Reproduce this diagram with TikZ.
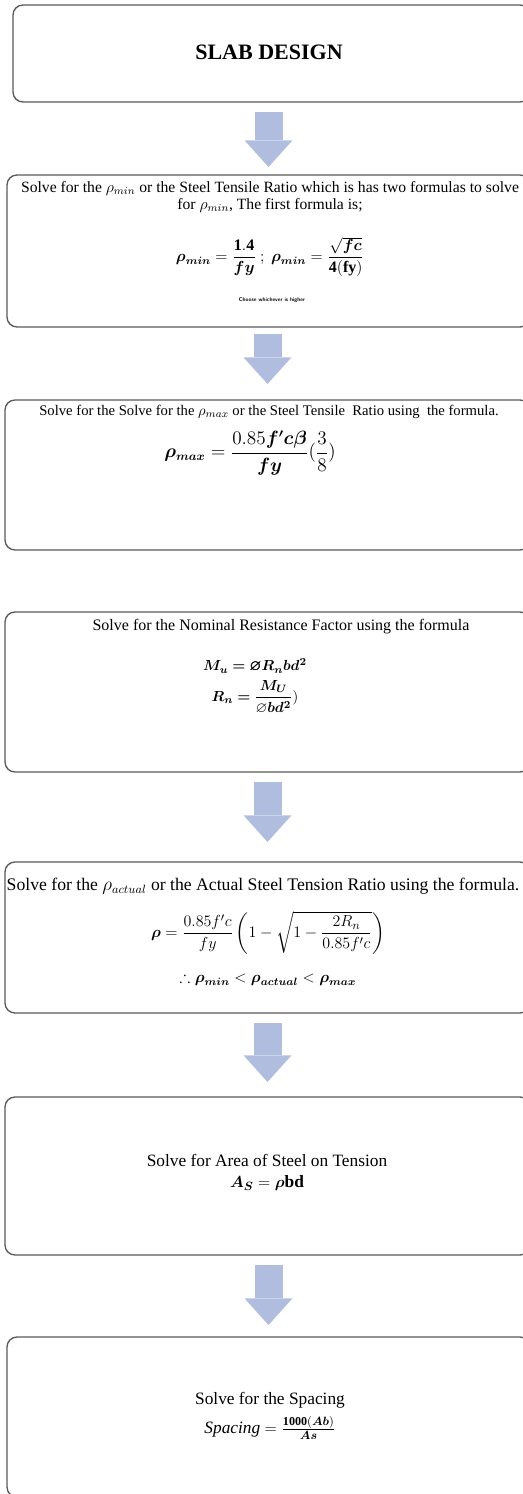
\documentclass[tikz,border=0pt]{standalone}
\usepackage{amsmath,amssymb,bm}
\usepackage{fontspec}
\setmainfont{Liberation Serif}
\usetikzlibrary{arrows.meta}

\tikzset{every picture/.style={line width=0.75pt}}
\tikzset{
  stepbox/.style={draw={rgb, 255:red, 89; green, 89; blue, 89}, line width=1pt, rounded corners=7.5pt, inner sep=0pt, outer sep=0pt},
  steptext/.style={inner sep=0pt, align=center},
  flowarrow/.style={draw={rgb, 255:red, 176; green, 189; blue, 222}, line width=21pt,
    -{Triangle[width=36pt,length=20pt,line width=0pt]}, shorten <=7.5pt},
}

\begin{document}
\begin{tikzpicture}[x=0.75pt,y=0.75pt,yscale=-1,xscale=1]
\useasboundingbox (0,0) rectangle (523,1494);
\clip (0,0) rectangle (523,1494);

%Shape: Rounded Rect [title]
\node[stepbox, minimum width=387.75pt, minimum height=72.75pt] (title) at (271.5,53.5) {};
%Shape: Rounded Rect [rho min]
\node[stepbox, minimum width=392.25pt, minimum height=114pt] (ratiomin) at (268.5,251) {};
%Shape: Rounded Rect [rho max]
\node[stepbox, minimum width=393.75pt, minimum height=112.5pt] (ratiomax) at (267.5,475) {};
%Shape: Rounded Rect [Rn]
\node[stepbox, minimum width=393.75pt, minimum height=120pt] (resist) at (267.5,692) {};
%Shape: Rounded Rect [rho actual]
\node[stepbox, minimum width=393.75pt, minimum height=113.25pt] (actual) at (267.5,937.5) {};
%Shape: Rounded Rect [As]
\node[stepbox, minimum width=393.75pt, minimum height=118.5pt] (area) at (267.5,1176) {};
%Shape: Rounded Rect [spacing]
\node[stepbox, minimum width=392.25pt, minimum height=120pt] (spacing) at (268.5,1417) {};

%Down Arrows
\draw[flowarrow, shorten >=6pt] (ratiomin.north |- title.south) -- (ratiomin.north);
\draw[flowarrow, shorten <=5.25pt, shorten >=12pt] (ratiomax.north |- ratiomin.south) -- (ratiomax.north);
\draw[flowarrow, shorten >=15pt] (actual.north |- resist.south) -- (actual.north);
\draw[flowarrow, shorten >=11.25pt] (area.north |- actual.south) -- (area.north);
\draw[flowarrow, shorten >=9pt] (spacing.north |- area.south) -- (spacing.north);

% Text Node
\draw (269,52) node[steptext, font=\fontsize{16.5}{20}\selectfont\bfseries] (tTitle) {SLAB DESIGN};
% Text Node
\draw (270,197) node[steptext, font=\fontsize{11.75}{12.75}\selectfont] (tRatiomin) {Solve for the $\rho_{min}$ or the Steel Tensile Ratio which is has two formulas to solve\\ for $\rho_{min}$, The first formula is;};
% Text Node
\draw (270,257) node[steptext, font=\fontsize{12}{14}\selectfont] (fRatiomin) {$\bm{\rho_{min}} = \dfrac{\mathbf{1.4}}{\bm{fy}}\ ;\ \bm{\rho_{min}} = \dfrac{\sqrt{\bm{fc}}}{\mathbf{4(fy)}}$};
% Text Node
\draw (272,300) node[steptext, font=\fontsize{4}{5}\selectfont\sffamily\bfseries] (nRatiomin) {Choose whichever is higher};
% Text Node
\draw (269,412) node[steptext, font=\fontsize{11}{13}\selectfont] (tRatiomax) {Solve for the Solve for the $\rho_{max}$ or the Steel Tensile\ \ Ratio using\ \ the formula.};
% Text Node
\draw (250,453) node[steptext, font=\fontsize{13.5}{15}\selectfont] (fRatiomax) {$\bm{\rho_{max}} = \dfrac{0.85\bm{f'c\beta}}{\bm{fy}}(\dfrac{3}{8})$};
% Text Node
\draw (281,627) node[steptext, font=\fontsize{12}{14}\selectfont] (tResist) {Solve for the Nominal Resistance Factor using the formula};
% Text Node
\draw (255,666) node[steptext, font=\fontsize{11}{13}\selectfont] (fMoment) {$\bm{M_u = \varnothing R_n bd^2}$};
% Text Node
\draw (255,697) node[steptext, font=\fontsize{11}{13}\selectfont] (fResist) {$\bm{R_n = \dfrac{M_U}{\varnothing bd^2}})$};
% Text Node
\draw (263,886) node[steptext, font=\fontsize{13.25}{15}\selectfont] (tActual) {Solve for the $\rho_{actual}$ or the Actual Steel Tension Ratio using the formula.};
% Text Node
\draw (268,933) node[steptext, font=\fontsize{13}{15}\selectfont] (fActual) {$\bm{\rho} = \dfrac{0.85f'c}{fy}\left(1-\sqrt{1-\dfrac{2R_n}{0.85f'c}}\right)$};
% Text Node
\draw (268,979) node[steptext, font=\fontsize{12}{14}\selectfont] (cActual) {$\therefore \bm{\rho_{min}} < \bm{\rho_{actual}} < \bm{\rho_{max}}$};
% Text Node
\draw (267,1160) node[steptext, font=\fontsize{13}{15}\selectfont] (tArea) {Solve for Area of Steel on Tension};
% Text Node
\draw (267,1183) node[steptext, font=\fontsize{13}{15}\selectfont] (fArea) {$\bm{A_S} = \bm{\rho}\mathbf{bd}$};
% Text Node
\draw (270,1400) node[steptext, font=\fontsize{13}{15}\selectfont] (tSpacing) {Solve for the Spacing};
% Text Node
\draw (270,1428) node[steptext, font=\fontsize{13}{15}\selectfont] (fSpacing) {$\mathit{Spacing} = \frac{\mathbf{1000}(\bm{Ab})}{\bm{As}}$};

\end{tikzpicture}
\end{document}
